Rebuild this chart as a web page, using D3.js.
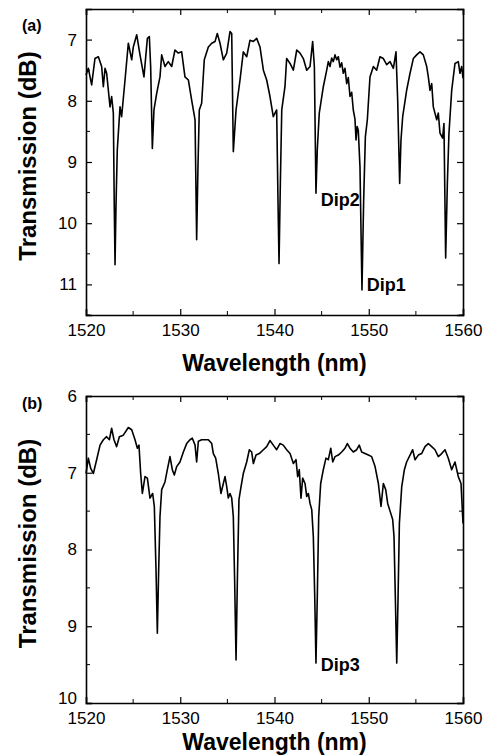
<!DOCTYPE html>
<html>
<head>
<meta charset="utf-8">
<script src="https://cdn.jsdelivr.net/npm/d3@7"></script>
<style>
  body { margin: 0; background: #fff; }
  svg { display: block; font-family: "Liberation Sans", Arial, sans-serif; }
</style>
</head>
<body>
<div id="chart"></div>
<script>
// Data: panel (a)
const wavelengthA = [1520.0, 1520.25, 1520.6, 1520.95, 1521.31, 1521.66, 1521.84, 1522.02, 1522.19, 1522.55, 1522.72, 1522.9, 1523.0, 1523.08, 1523.18, 1523.32, 1523.61, 1523.78, 1524.14, 1524.49, 1524.85, 1525.02, 1525.38, 1525.73, 1526.15, 1526.51, 1526.72, 1526.86, 1527.04, 1527.21, 1527.5, 1527.85, 1528.03, 1528.38, 1528.73, 1529.09, 1529.44, 1529.79, 1530.15, 1530.5, 1530.86, 1531.21, 1531.57, 1531.74, 1531.88, 1532.02, 1532.27, 1532.55, 1532.98, 1533.34, 1533.69, 1533.93, 1534.22, 1534.57, 1534.93, 1535.28, 1535.46, 1535.63, 1535.92, 1536.34, 1536.69, 1537.05, 1537.4, 1537.76, 1538.11, 1538.46, 1538.82, 1539.17, 1539.52, 1539.87, 1540.23, 1540.37, 1540.48, 1540.62, 1540.77, 1541.11, 1541.29, 1541.65, 1542.0, 1542.36, 1542.71, 1543.06, 1543.42, 1543.77, 1544.05, 1544.23, 1544.4, 1544.54, 1544.75, 1545.18, 1545.54, 1545.71, 1545.89, 1546.07, 1546.24, 1546.42, 1546.6, 1546.77, 1546.95, 1547.13, 1547.3, 1547.48, 1547.66, 1547.83, 1548.01, 1548.19, 1548.36, 1548.54, 1548.65, 1548.77, 1548.89, 1549.07, 1549.28, 1549.46, 1549.64, 1549.85, 1550.13, 1550.49, 1550.84, 1551.19, 1551.55, 1551.9, 1552.26, 1552.61, 1552.89, 1553.07, 1553.28, 1553.42, 1553.6, 1554.02, 1554.38, 1554.73, 1555.08, 1555.44, 1555.79, 1556.15, 1556.32, 1556.5, 1556.68, 1556.85, 1557.21, 1557.38, 1557.56, 1557.84, 1557.98, 1558.16, 1558.34, 1558.51, 1558.8, 1559.15, 1559.5, 1559.68, 1559.86, 1560.0];
const transA = [7.58, 7.47, 7.74, 7.31, 7.28, 7.44, 7.77, 7.47, 7.55, 8.1, 7.93, 8.2, 9.73, 10.68, 9.73, 8.8, 8.1, 8.26, 7.66, 7.06, 7.33, 7.12, 6.92, 7.25, 7.61, 6.98, 6.95, 7.44, 8.78, 8.15, 7.88, 7.61, 7.25, 7.44, 7.36, 7.44, 7.17, 7.22, 7.2, 7.61, 7.66, 7.99, 8.31, 10.27, 9.08, 8.15, 8.04, 7.33, 7.12, 7.06, 7.03, 6.9, 7.06, 7.33, 7.22, 6.87, 6.9, 8.83, 8.15, 7.66, 7.2, 7.28, 7.01, 7.03, 6.98, 7.12, 7.5, 7.66, 7.93, 8.26, 8.15, 9.62, 10.66, 9.35, 8.15, 7.77, 7.31, 7.39, 7.5, 7.17, 7.22, 7.31, 7.5, 7.44, 7.03, 7.44, 9.51, 8.8, 8.2, 7.77, 7.5, 7.36, 7.44, 7.3, 7.36, 7.25, 7.33, 7.28, 7.45, 7.38, 7.55, 7.47, 7.72, 7.62, 7.93, 7.86, 8.15, 8.3, 8.64, 8.42, 8.48, 9.08, 11.09, 9.62, 8.59, 8.31, 7.61, 7.44, 7.5, 7.28, 7.31, 7.41, 7.36, 7.47, 7.2, 7.99, 9.35, 8.64, 8.26, 7.83, 7.55, 7.31, 7.25, 7.2, 7.25, 7.44, 7.61, 7.83, 7.72, 8.1, 8.31, 8.2, 8.53, 8.61, 8.37, 10.57, 9.35, 8.53, 7.83, 7.39, 7.36, 7.55, 7.44, 7.63];

// Data: panel (b)
const wavelengthB = [1520.0, 1520.25, 1520.49, 1520.78, 1521.13, 1521.49, 1521.84, 1522.19, 1522.48, 1522.72, 1522.97, 1523.25, 1523.54, 1523.96, 1524.49, 1524.85, 1525.2, 1525.45, 1525.62, 1525.8, 1525.98, 1526.26, 1526.51, 1526.79, 1527.07, 1527.25, 1527.43, 1527.57, 1527.71, 1527.85, 1528.03, 1528.38, 1528.63, 1528.91, 1529.16, 1529.37, 1529.62, 1529.97, 1530.33, 1530.68, 1531.03, 1531.28, 1531.57, 1531.74, 1531.92, 1532.27, 1532.63, 1532.98, 1533.34, 1533.51, 1533.76, 1534.04, 1534.32, 1534.57, 1534.75, 1534.93, 1535.1, 1535.28, 1535.46, 1535.63, 1535.77, 1535.92, 1536.06, 1536.23, 1536.45, 1536.69, 1537.05, 1537.33, 1537.58, 1537.76, 1538.04, 1538.39, 1538.82, 1539.17, 1539.52, 1539.87, 1540.23, 1540.58, 1540.93, 1541.29, 1541.65, 1542.0, 1542.28, 1542.46, 1542.63, 1542.81, 1542.99, 1543.24, 1543.42, 1543.59, 1543.77, 1543.95, 1544.12, 1544.27, 1544.4, 1544.54, 1544.69, 1544.9, 1545.18, 1545.46, 1545.71, 1545.97, 1546.18, 1546.42, 1546.77, 1547.13, 1547.48, 1547.73, 1548.01, 1548.36, 1548.72, 1548.99, 1549.25, 1549.6, 1549.96, 1550.31, 1550.67, 1551.02, 1551.3, 1551.55, 1551.8, 1552.01, 1552.26, 1552.54, 1552.68, 1552.82, 1552.97, 1553.11, 1553.25, 1553.5, 1553.78, 1554.02, 1554.38, 1554.66, 1554.91, 1555.26, 1555.61, 1555.97, 1556.32, 1556.68, 1557.03, 1557.38, 1557.74, 1558.09, 1558.44, 1558.8, 1559.15, 1559.5, 1559.79, 1560.0];
const transB = [7.01, 6.81, 6.94, 7.01, 6.83, 6.64, 6.57, 6.53, 6.57, 6.42, 6.57, 6.66, 6.53, 6.51, 6.41, 6.44, 6.57, 6.68, 6.64, 7.01, 7.27, 7.05, 7.07, 7.33, 7.27, 7.44, 8.27, 9.09, 8.27, 7.57, 7.22, 7.12, 6.96, 6.79, 6.96, 7.03, 6.92, 6.86, 6.73, 6.62, 6.57, 6.55, 6.64, 6.86, 6.59, 6.57, 6.57, 6.57, 6.62, 6.75, 6.81, 7.01, 7.27, 7.14, 7.05, 7.18, 7.33, 7.27, 7.33, 7.57, 8.4, 9.44, 8.4, 7.35, 7.18, 7.01, 6.86, 6.7, 6.73, 6.88, 6.77, 6.75, 6.7, 6.66, 6.58, 6.64, 6.7, 6.62, 6.64, 6.7, 6.75, 6.88, 6.83, 7.05, 6.96, 7.33, 7.07, 7.14, 7.31, 7.27, 7.4, 7.48, 7.83, 8.62, 9.48, 8.62, 7.57, 7.14, 6.96, 6.81, 6.83, 6.68, 6.86, 6.79, 6.77, 6.73, 6.68, 6.62, 6.68, 6.73, 6.7, 6.64, 6.73, 6.75, 6.77, 6.79, 6.92, 7.14, 7.44, 7.14, 7.22, 7.4, 7.5, 7.61, 7.83, 8.62, 9.48, 8.62, 7.66, 7.18, 6.96, 6.86, 6.77, 6.7, 6.83, 6.77, 6.75, 6.66, 6.62, 6.66, 6.7, 6.79, 6.75, 6.7, 6.81, 6.96, 6.86, 7.05, 7.14, 7.66];

const xTicks = [1520, 1530, 1540, 1550, 1560];
const xMinor = [1525, 1535, 1545, 1555];
const yTicksA = [7, 8, 9, 10, 11];
const yMinorA = [7.5, 8.5, 9.5, 10.5, 11.5];
const yTicksB = [6, 7, 8, 9, 10];
const yMinorB = [6.5, 7.5, 8.5, 9.5];

const dipLabels = [
    { panel: "a", text: "Dip2", x: 1544.9, y: 9.72 },
    { panel: "a", text: "Dip1", x: 1549.8, y: 11.1 },
    { panel: "b", text: "Dip3", x: 1544.9, y: 9.58 }
];

const width = 495;
const height = 755;

const svg = d3.select("#chart")
    .append("svg")
    .attr("width", width)
    .attr("height", height);

function drawPanel(opts) {
    const { left, top, w, h, yDomain, yTicks, yMinor, wl, tr, tag, tagY, titleGap } = opts;

    const x = d3.scaleLinear().domain([1520, 1560]).range([0, w]);
    const y = d3.scaleLinear().domain(yDomain).range([0, h]);

    const g = svg.append("g").attr("transform", `translate(${left},${top})`);

    // curve
    const line = d3.line().x((d, i) => x(wl[i])).y(d => y(d));
    g.append("path")
        .datum(tr)
        .attr("fill", "none")
        .attr("stroke", "#000")
        .attr("stroke-width", 1.6)
        .attr("stroke-linejoin", "round")
        .attr("d", line);

    // bottom axis with labels, inward ticks
    const bottom = g.append("g")
        .attr("transform", `translate(0,${h})`)
        .call(d3.axisBottom(x).tickValues(xTicks).tickSize(-6).tickPadding(9).tickFormat(d3.format("d")));
    bottom.append("g").selectAll("line").data(xMinor).enter().append("line")
        .attr("x1", d => x(d)).attr("x2", d => x(d)).attr("y1", 0).attr("y2", -4).attr("stroke", "#000");

    // top axis (mirror, no labels)
    const topAx = g.append("g")
        .call(d3.axisTop(x).tickValues(xTicks).tickSize(-6).tickFormat(""));
    topAx.append("g").selectAll("line").data(xMinor).enter().append("line")
        .attr("x1", d => x(d)).attr("x2", d => x(d)).attr("y1", 0).attr("y2", 4).attr("stroke", "#000");

    // left axis with labels
    const leftAx = g.append("g")
        .call(d3.axisLeft(y).tickValues(yTicks).tickSize(-6).tickPadding(9).tickFormat(d3.format("d")));
    leftAx.append("g").selectAll("line").data(yMinor).enter().append("line")
        .attr("y1", d => y(d)).attr("y2", d => y(d)).attr("x1", 0).attr("x2", 4).attr("stroke", "#000");
    // the last label sits a little above the corner, as in the original
    leftAx.selectAll(".tick text")
        .filter(d => d === yDomain[1] && opts.id === "b")
        .attr("y", -5);

    // right axis (mirror)
    const rightAx = g.append("g")
        .attr("transform", `translate(${w},0)`)
        .call(d3.axisRight(y).tickValues(yTicks).tickSize(-6).tickFormat(""));
    rightAx.append("g").selectAll("line").data(yMinor).enter().append("line")
        .attr("y1", d => y(d)).attr("y2", d => y(d)).attr("x1", 0).attr("x2", -4).attr("stroke", "#000");

    g.selectAll(".domain").attr("stroke-width", 1.6);
    g.selectAll(".tick line").attr("stroke-width", 1.2);
    g.selectAll(".tick text")
        .attr("font-family", "Liberation Sans, Arial, sans-serif")
        .attr("font-size", 17)
        .attr("fill", "#000");

    // axis titles
    g.append("text")
        .attr("x", w / 2)
        .attr("y", h + titleGap)
        .attr("text-anchor", "middle")
        .attr("font-size", 23)
        .attr("font-weight", "bold")
        .text("Wavelength (nm)");

    g.append("text")
        .attr("transform", `translate(${-50},${h / 2 - 6}) rotate(-90)`)
        .attr("text-anchor", "middle")
        .attr("font-size", 24)
        .attr("font-weight", "bold")
        .text("Transmission (dB)");

    // panel tag
    svg.append("text")
        .attr("x", 22)
        .attr("y", tagY)
        .attr("font-size", 16)
        .attr("font-weight", "bold")
        .text(tag);

    // dip annotations
    g.selectAll(".dip")
        .data(dipLabels.filter(d => d.panel === opts.id))
        .enter()
        .append("text")
        .attr("class", "dip")
        .attr("x", d => x(d.x))
        .attr("y", d => y(d.y))
        .attr("font-size", 18)
        .attr("font-weight", "bold")
        .text(d => d.text);
}

drawPanel({
    id: "a", left: 86, top: 9, w: 377, h: 306,
    yDomain: [6.5, 11.5], yTicks: yTicksA, yMinor: yMinorA,
    wl: wavelengthA, tr: transA, tag: "(a)", tagY: 31, titleGap: 56
});

drawPanel({
    id: "b", left: 86, top: 396, w: 377, h: 307,
    yDomain: [6, 10], yTicks: yTicksB, yMinor: yMinorB,
    wl: wavelengthB, tr: transB, tag: "(b)", tagY: 409, titleGap: 47
});
</script>
</body>
</html>
